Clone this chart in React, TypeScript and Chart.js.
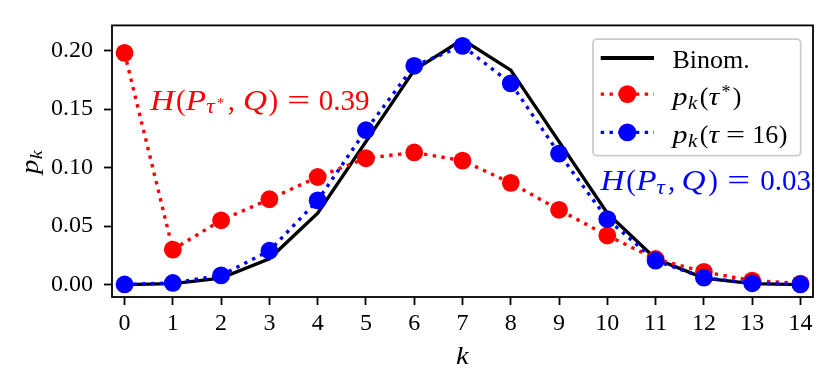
import React, { useEffect, useRef } from 'react';
import { Chart, registerables } from 'chart.js';

Chart.register(...registerables);

// ---- data ----
const kValues = [0, 1, 2, 3, 4, 5, 6, 7, 8, 9, 10, 11, 12, 13, 14];
const binomValues = [0.0001, 0.0009, 0.0056, 0.0222, 0.0611, 0.1222, 0.1833, 0.2095, 0.1833, 0.1222, 0.0611, 0.0222, 0.0056, 0.0009, 0.0001];
const pTauStarValues = [0.198, 0.030, 0.055, 0.073, 0.092, 0.108, 0.113, 0.106, 0.087, 0.064, 0.042, 0.022, 0.011, 0.0035, 0.001];
const pTau16Values = [0.0002, 0.0015, 0.008, 0.029, 0.072, 0.132, 0.187, 0.204, 0.172, 0.112, 0.056, 0.0205, 0.006, 0.0012, 0.0002];
const yTickValues = [0, 0.05, 0.1, 0.15, 0.2];
const xTickValues = kValues;

const SERIF = "'Liberation Serif', 'Times New Roman', serif";
const RED = '#ff0000';
const BLUE = '#0000ff';

// t: text, it: italic, s: size factor, dy: baseline shift (em), dx: extra gap before (px), sx: horizontal glyph scale
type Seg = { t: string; it?: boolean; s?: number; dy?: number; dx?: number; sx?: number };

const LW = 1.15; // letter widening (math italic letters are wider than Times italic)

const legendBinom: Seg[] = [{ t: 'Binom.' }];
const legendTauStar: Seg[] = [
  { t: 'p', it: true, sx: LW }, { t: 'k', it: true, s: 0.7, dy: 0.17, dx: 0.5, sx: LW }, { t: '(', dx: 2.5 },
  { t: 'τ', it: true, sx: LW }, { t: '*', s: 0.7, dy: -0.27, dx: 2.5 }, { t: ')', dx: 2 },
];
const legendTau16: Seg[] = [
  { t: 'p', it: true, sx: LW }, { t: 'k', it: true, s: 0.7, dy: 0.17, dx: 0.5, sx: LW }, { t: '(', dx: 2.5 },
  { t: 'τ', it: true, sx: LW }, { t: '=', dx: 7, sx: 1.3 }, { t: '16', dx: 7 }, { t: ')', dx: 0.5 },
];
const annoRed: Seg[] = [
  { t: 'H', it: true, sx: LW }, { t: '(', dx: 1.9 }, { t: 'P', it: true, sx: LW }, { t: 'τ', it: true, s: 0.7, dy: 0.12, dx: 0, sx: LW },
  { t: '*', s: 0.5, dy: -0.07, dx: 2.5 }, { t: ',', dx: 3.5 }, { t: 'Q', it: true, dx: 8, sx: LW }, { t: ')', dx: 1.5 },
  { t: '=', dx: 9, sx: 1.4 }, { t: '0.39', dx: 8.6 },
];
const annoBlue: Seg[] = [
  { t: 'H', it: true, sx: LW }, { t: '(', dx: 1.6 }, { t: 'P', it: true, dx: 0.3, sx: LW }, { t: 'τ', it: true, s: 0.7, dy: 0.12, dx: 0, sx: LW },
  { t: ',', dx: 3 }, { t: 'Q', it: true, dx: 6.4, sx: LW }, { t: ')', dx: 2.5 },
  { t: '=', dx: 9.5, sx: 1.4 }, { t: '0.03', dx: 10 },
];
const axisLabelY: Seg[] = [{ t: 'p', it: true, sx: LW }, { t: 'k', it: true, s: 0.7, dy: 0.17, dx: 0.5, sx: LW }];
const axisLabelX: Seg[] = [{ t: 'k', it: true, sx: LW }];

function segFont(seg: Seg, size: number) {
  return `${seg.it ? 'italic ' : ''}${(size * (seg.s ?? 1)).toFixed(2)}px ${SERIF}`;
}
function mathWidth(ctx: CanvasRenderingContext2D, segs: Seg[], size: number) {
  let w = 0;
  for (const seg of segs) {
    ctx.font = segFont(seg, size);
    w += ctx.measureText(seg.t).width * (seg.sx ?? 1) + (seg.dx ?? 0);
  }
  return w;
}
function drawMath(ctx: CanvasRenderingContext2D, segs: Seg[], x: number, y: number, size: number, color: string) {
  ctx.save();
  ctx.fillStyle = color;
  ctx.textAlign = 'left';
  ctx.textBaseline = 'alphabetic';
  let cx = x;
  for (const seg of segs) {
    ctx.font = segFont(seg, size);
    cx += seg.dx ?? 0;
    const sx = seg.sx ?? 1;
    ctx.save();
    ctx.translate(cx, y + (seg.dy ?? 0) * size);
    ctx.scale(sx, 1);
    ctx.fillText(seg.t, 0, 0);
    ctx.restore();
    cx += ctx.measureText(seg.t).width * sx;
  }
  ctx.restore();
}

const DOT_DASH = [3.4, 5.4];
const DOT_WIDTH = 3.4;
const MARKER_R = 8.9;

const decorPlugin = {
  id: 'decor',
  afterDatasetsDraw(chart: any) {
    const { ctx, chartArea: ca } = chart;
    ctx.save();
    ctx.strokeStyle = '#000';
    ctx.lineWidth = 1.8;
    ctx.strokeRect(ca.left, ca.top, ca.right - ca.left, ca.bottom - ca.top);
    ctx.restore();
  },
  afterDraw(chart: any) {
    const { ctx, chartArea: ca, scales } = chart;
    const xs = scales.x;
    const ys = scales.y;

    // annotations
    drawMath(ctx, annoRed, xs.getPixelForValue(0.53), ys.getPixelForValue(0.1495), 29, RED);
    drawMath(ctx, annoBlue, xs.getPixelForValue(9.86), ys.getPixelForValue(0.0805), 29, BLUE);

    // axis labels
    const xw = mathWidth(ctx, axisLabelX, 25);
    drawMath(ctx, axisLabelX, (ca.left + ca.right) / 2 - xw / 2, 364, 25, '#000');
    ctx.save();
    ctx.translate(38, (ca.top + ca.bottom) / 2 + 1);
    ctx.rotate(-Math.PI / 2);
    const yw = mathWidth(ctx, axisLabelY, 25);
    drawMath(ctx, axisLabelY, -yw / 2, 0, 25, '#000');
    ctx.restore();

    // legend
    const bx1 = ca.right - 12.3;
    const bx0 = bx1 - 207.7;
    const by0 = ca.top + 13.7;
    const by1 = by0 + 116.6;
    ctx.save();
    ctx.beginPath();
    ctx.roundRect(bx0, by0, bx1 - bx0, by1 - by0, 4);
    ctx.fillStyle = 'rgba(255,255,255,0.8)';
    ctx.fill();
    ctx.strokeStyle = '#cccccc';
    ctx.lineWidth = 1.8;
    ctx.stroke();
    ctx.restore();

    const rows = [
      { segs: legendBinom, cy: 19, base: 29, color: '#000', dotted: false },
      { segs: legendTauStar, cy: 55, base: 65.6, color: RED, dotted: true },
      { segs: legendTau16, cy: 93.3, base: 103.8, color: BLUE, dotted: true },
    ];
    const lx0 = bx0 + 7.7;
    const lx1 = bx0 + 61;
    const tx = bx0 + 79.5;
    for (const r of rows) {
      const cy = by0 + r.cy;
      ctx.save();
      ctx.strokeStyle = r.color;
      ctx.lineWidth = r.dotted ? DOT_WIDTH : 4;
      ctx.lineCap = 'butt';
      ctx.setLineDash(r.dotted ? DOT_DASH : []);
      ctx.beginPath();
      ctx.moveTo(lx0, cy);
      ctx.lineTo(lx1, cy);
      ctx.stroke();
      if (r.dotted) {
        ctx.setLineDash([]);
        ctx.beginPath();
        ctx.arc((lx0 + lx1) / 2, cy, MARKER_R, 0, Math.PI * 2);
        ctx.fillStyle = r.color;
        ctx.fill();
      }
      ctx.restore();
      drawMath(ctx, r.segs, tx, by0 + r.base, 26, '#000');
    }
  },
};

export default function App() {
  const canvasRef = useRef<HTMLCanvasElement | null>(null);

  useEffect(() => {
    document.body.style.margin = '0';
    const canvas = canvasRef.current;
    if (!canvas) return;
    const toPts = (arr: number[]) => kValues.map((k, i) => ({ x: k, y: arr[i] }));

    const tickFont = { family: SERIF, size: 24 };
    const tickGrid = {
      display: true,
      drawOnChartArea: false,
      drawTicks: true,
      tickLength: 8,
      tickWidth: 1.8,
      tickColor: '#000',
    };
    const chart = new Chart(canvas, {
      type: 'line',
      data: {
        datasets: [
          {
            label: 'Binom.',
            data: toPts(binomValues),
            borderColor: '#000',
            borderWidth: 3.4,
            pointRadius: 0,
            tension: 0,
            order: 3,
          },
          {
            label: 'p_k(τ*)',
            data: toPts(pTauStarValues),
            borderColor: RED,
            backgroundColor: RED,
            borderWidth: DOT_WIDTH,
            borderDash: DOT_DASH,
            borderCapStyle: 'butt',
            pointRadius: MARKER_R,
            pointBorderWidth: 0,
            pointBackgroundColor: RED,
            pointBorderColor: RED,
            tension: 0,
            order: 2,
          },
          {
            label: 'p_k(τ = 16)',
            data: toPts(pTau16Values),
            borderColor: BLUE,
            backgroundColor: BLUE,
            borderWidth: DOT_WIDTH,
            borderDash: DOT_DASH,
            borderCapStyle: 'butt',
            pointRadius: MARKER_R,
            pointBorderWidth: 0,
            pointBackgroundColor: BLUE,
            pointBorderColor: BLUE,
            tension: 0,
            order: 1,
          },
        ],
      } as any,
      options: {
        animation: false,
        responsive: false,
        devicePixelRatio: 1,
        layout: { padding: { top: 17, right: 18, left: 0, bottom: 0 }, autoPadding: false } as any,
        plugins: {
          legend: { display: false },
          tooltip: { enabled: false },
          title: { display: false },
        },
        scales: {
          x: {
            type: 'linear',
            min: -0.26,
            max: 14.26,
            afterBuildTicks: (scale: any) => {
              scale.ticks = xTickValues.map((v) => ({ value: v }));
            },
            afterFit: (scale: any) => {
              scale.height = 90;
            },
            ticks: {
              font: tickFont,
              color: '#000',
              padding: 4,
              maxRotation: 0,
              autoSkip: false,
              callback: (v: any) => String(v),
            },
            grid: tickGrid,
            border: { display: false },
          },
          y: {
            type: 'linear',
            min: -0.0105,
            max: 0.2215,
            afterBuildTicks: (scale: any) => {
              scale.ticks = yTickValues.map((v) => ({ value: v }));
            },
            afterFit: (scale: any) => {
              scale.width = 112;
            },
            ticks: {
              font: tickFont,
              color: '#000',
              padding: 11,
              autoSkip: false,
              callback: (v: any) => Number(v).toFixed(2),
            },
            grid: tickGrid,
            border: { display: false },
          },
        },
      } as any,
      plugins: [decorPlugin],
    });
    return () => chart.destroy();
  }, []);

  return (
    <div style={{ position: 'absolute', left: 0, top: 0, width: 831, height: 387, background: '#fff' }}>
      <canvas ref={canvasRef} width={831} height={387} style={{ display: 'block' }} />
    </div>
  );
}
